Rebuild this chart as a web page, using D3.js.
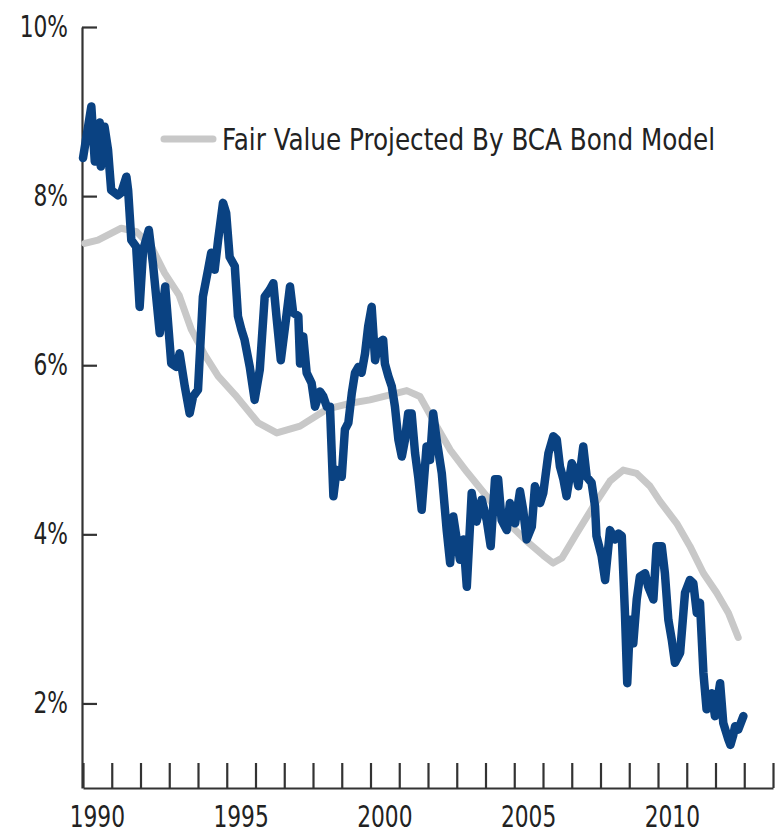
<!DOCTYPE html>
<html>
<head>
<meta charset="utf-8">
<script src="https://cdn.jsdelivr.net/npm/d3@7"></script>
<style>
  body { margin: 0; background: #fff; }
  svg text { font-family: "Liberation Sans Narrow", "Arial Narrow", "DejaVu Sans Condensed", sans-serif; fill: #222; }
</style>
</head>
<body>
<div id="chart"></div>
<script>
// Bond yield (blue): decimal year, percent
const yieldYears = [
  1990.00, 1990.29, 1990.41, 1990.58, 1990.62, 1990.75, 1990.87, 1990.98, 1991.22, 1991.33,
  1991.51, 1991.57, 1991.68, 1991.85, 1991.97, 1992.09, 1992.29, 1992.43, 1992.67, 1992.86,
  1993.07, 1993.25, 1993.36, 1993.54, 1993.71, 1993.83, 1994.00, 1994.17, 1994.35, 1994.46,
  1994.58, 1994.70, 1994.87, 1994.98, 1995.10, 1995.28, 1995.39, 1995.51, 1995.62, 1995.80,
  1995.97, 1996.15, 1996.32, 1996.49, 1996.62, 1996.74, 1996.88, 1997.03, 1997.20, 1997.31,
  1997.49, 1997.55, 1997.66, 1997.78, 1997.95, 1998.07, 1998.24, 1998.36, 1998.48, 1998.59,
  1998.71, 1998.82, 1999.00, 1999.11, 1999.23, 1999.35, 1999.46, 1999.58, 1999.69, 1999.81,
  1999.92, 2000.04, 2000.16, 2000.27, 2000.44, 2000.50, 2000.62, 2000.74, 2000.85, 2000.97,
  2001.09, 2001.20, 2001.31, 2001.43, 2001.55, 2001.66, 2001.78, 2001.95, 2002.07, 2002.18,
  2002.30, 2002.48, 2002.65, 2002.77, 2002.88, 2003.00, 2003.11, 2003.23, 2003.35, 2003.52,
  2003.69, 2003.87, 2004.04, 2004.18, 2004.33, 2004.44, 2004.56, 2004.74, 2004.85, 2005.03,
  2005.20, 2005.31, 2005.43, 2005.61, 2005.72, 2005.90, 2006.01, 2006.19, 2006.36, 2006.48,
  2006.59, 2006.71, 2006.82, 2007.00, 2007.11, 2007.23, 2007.40, 2007.52, 2007.69, 2007.81,
  2007.86, 2008.04, 2008.16, 2008.33, 2008.50, 2008.62, 2008.74, 2008.85, 2008.93, 2009.03,
  2009.14, 2009.26, 2009.37, 2009.55, 2009.66, 2009.84, 2009.95, 2010.13, 2010.24, 2010.36,
  2010.48, 2010.59, 2010.77, 2010.94, 2011.11, 2011.23, 2011.35, 2011.46, 2011.58, 2011.69,
  2011.87, 2011.98, 2012.16, 2012.27, 2012.45, 2012.52, 2012.62, 2012.68, 2012.79, 2012.97
];
const yieldValues = [
  8.45, 9.06, 8.41, 8.87, 8.35, 8.82, 8.55, 8.07, 8.01, 8.04,
  8.23, 8.07, 7.48, 7.40, 6.69, 7.36, 7.60, 7.21, 6.38, 6.93,
  6.02, 5.98, 6.14, 5.75, 5.43, 5.63, 5.71, 6.81, 7.13, 7.33,
  7.13, 7.48, 7.92, 7.80, 7.28, 7.17, 6.58, 6.42, 6.30, 5.98,
  5.59, 5.95, 6.81, 6.89, 6.97, 6.54, 6.06, 6.46, 6.93, 6.62,
  6.58, 6.02, 6.34, 5.91, 5.79, 5.51, 5.69, 5.63, 5.51, 5.51,
  4.45, 4.76, 4.68, 5.24, 5.32, 5.67, 5.91, 5.98, 5.91, 6.14,
  6.46, 6.69, 6.06, 6.26, 6.30, 6.02, 5.87, 5.75, 5.51, 5.12,
  4.92, 5.12, 5.43, 5.43, 4.96, 4.68, 4.29, 5.04, 4.88, 5.43,
  5.12, 4.72, 4.05, 3.66, 4.21, 3.94, 3.70, 3.94, 3.38, 4.49,
  4.15, 4.41, 4.17, 3.86, 4.65, 4.65, 4.17, 4.05, 4.37, 4.13,
  4.51, 4.29, 3.94, 4.09, 4.57, 4.37, 4.49, 4.96, 5.16, 5.12,
  4.80, 4.65, 4.45, 4.84, 4.76, 4.57, 5.04, 4.68, 4.61, 4.33,
  3.98, 3.74, 3.46, 4.05, 3.94, 4.01, 3.98, 3.07, 2.24, 2.99,
  2.71, 3.23, 3.50, 3.54, 3.38, 3.23, 3.86, 3.86, 3.54, 2.99,
  2.75, 2.48, 2.60, 3.31, 3.46, 3.42, 3.07, 3.19, 2.36, 1.93,
  2.12, 1.85, 2.24, 1.77, 1.57, 1.51, 1.63, 1.73, 1.69, 1.85
];

// Fair value projected by BCA bond model (gray)
const fairYears = [
  1990.06, 1990.52, 1991.33, 1991.86, 1992.38, 1992.84, 1993.34, 1993.77, 1994.24, 1994.70,
  1995.29, 1996.09, 1996.74, 1997.55, 1998.48, 1999.29, 1999.98, 2000.68, 2001.26, 2001.72,
  2002.18, 2002.77, 2003.35, 2004.04, 2004.74, 2005.43, 2006.01, 2006.35, 2006.66, 2007.17,
  2007.75, 2008.33, 2008.79, 2009.26, 2009.72, 2010.07, 2010.65, 2011.11, 2011.58, 2012.04,
  2012.45, 2012.79
];
const fairValues = [
  7.44, 7.48, 7.62, 7.58, 7.40, 7.09, 6.83, 6.42, 6.12, 5.87,
  5.65, 5.32, 5.20, 5.28, 5.48, 5.55, 5.59, 5.65, 5.70, 5.63,
  5.35, 5.00, 4.74, 4.45, 4.15, 3.92, 3.75, 3.66, 3.72, 4.01,
  4.33, 4.63, 4.76, 4.72, 4.57, 4.39, 4.13, 3.86, 3.54, 3.31,
  3.07, 2.78
];

const yTicks = [2, 4, 6, 8, 10];
const yearTicks = d3.range(1990, 2015);
const yearLabels = [1990, 1995, 2000, 2005, 2010];
const legendLabel = "Fair Value Projected By BCA Bond Model";

const W = 782, H = 834;
const margin = { top: 27, right: 9, bottom: 46, left: 82 };
const squeeze = 0.78; // condensed look for the tick labels

const svg = d3.select("#chart").append("svg")
    .attr("width", W)
    .attr("height", H)
    .style("display", "block");

const x = d3.scaleLinear().domain([1990, 2014]).range([margin.left + 1, W - margin.right]);
const y = d3.scaleLinear().domain([1, 10]).range([H - margin.bottom, margin.top]);

// y axis, ticks pointing into the plot
const yAxis = svg.append("g")
    .attr("transform", `translate(${margin.left},0)`)
    .call(d3.axisLeft(y).tickValues(yTicks).tickSizeInner(-15).tickSizeOuter(0)
        .tickPadding(14 / squeeze).tickFormat(d => d + "%"));
yAxis.select(".domain").attr("stroke", "#333").attr("stroke-width", 2.2);
yAxis.selectAll(".tick line").attr("stroke", "#333").attr("stroke-width", 2.2);
yAxis.selectAll(".tick text")
    .attr("font-size", 31)
    .attr("font-family", null)
    .attr("fill", "#222")
    .attr("dy", "0.3em")
    .attr("transform", `scale(${squeeze},1)`);

// x axis, yearly ticks pointing up
const xAxis = svg.append("g")
    .attr("transform", `translate(0,${H - margin.bottom})`)
    .call(d3.axisBottom(x).tickValues(yearTicks).tickSizeInner(-25).tickSizeOuter(0).tickFormat(""));
xAxis.select(".domain").attr("stroke", "#333").attr("stroke-width", 2.2);
xAxis.selectAll(".tick line").attr("stroke", "#333").attr("stroke-width", 2.2);

// year labels centred in their year
svg.append("g").selectAll("text")
    .data(yearLabels)
    .join("text")
    .attr("transform", d => `translate(${x(d + 0.5)},${H - 7}) scale(${squeeze * 31 / 30},1)`)
    .attr("text-anchor", "middle")
    .attr("font-size", 30)
    .text(d => d);

const line = d3.line().x(d => x(d[0])).y(d => y(d[1]));

svg.append("path")
    .datum(d3.zip(fairYears, fairValues))
    .attr("fill", "none")
    .attr("stroke", "#c8c8c8")
    .attr("stroke-width", 7)
    .attr("stroke-linejoin", "round")
    .attr("stroke-linecap", "round")
    .attr("d", line);

svg.append("path")
    .datum(d3.zip(yieldYears, yieldValues))
    .attr("fill", "none")
    .attr("stroke", "#0a4282")
    .attr("stroke-width", 8.5)
    .attr("stroke-linejoin", "round")
    .attr("stroke-linecap", "round")
    .attr("d", line);

// legend
const legend = svg.append("g").attr("transform", "translate(164,139)");
legend.append("line")
    .attr("x1", 0).attr("x2", 49)
    .attr("stroke", "#c8c8c8")
    .attr("stroke-width", 7)
    .attr("stroke-linecap", "round");
legend.append("text")
    .attr("transform", "translate(58,11) scale(0.885,1)")
    .attr("font-size", 31)
    .text(legendLabel);
</script>
</body>
</html>
